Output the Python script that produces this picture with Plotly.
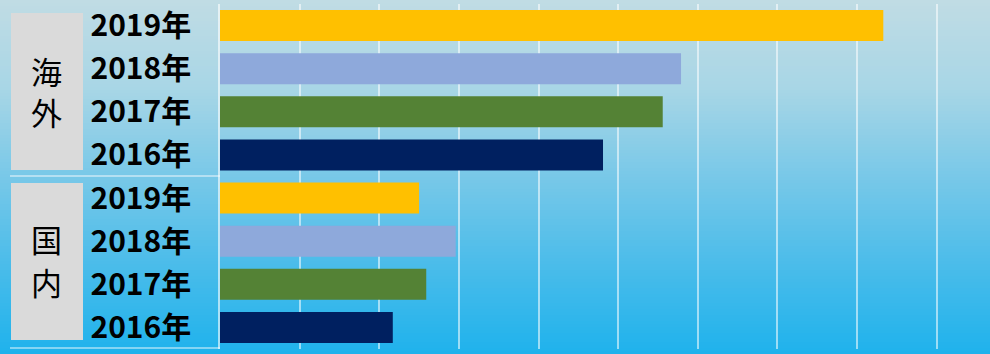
import plotly.graph_objects as go

# ---- data ----
groups = ["海外", "海外", "海外", "海外", "国内", "国内", "国内", "国内"]
years = ["2019年", "2018年", "2017年", "2016年", "2019年", "2018年", "2017年", "2016年"]
values = [83.3, 57.9, 55.6, 48.1, 25.0, 29.6, 25.9, 21.7]
year_colors = {"2019年": "#FFC000", "2018年": "#8EA9DB", "2017年": "#548235", "2016年": "#002060"}
group_chars = [["海", "外"], ["国", "内"]]

cat_ids = [f"{g}-{y}" for g, y in zip(groups, years)]
colors = [year_colors[y] for y in years]

W, H = 990, 354
L, R, T, B = 220, 0, 4, 5
pw, ph = W - L - R, H - T - B


def px_x(px):
    return (px - L) / pw


def px_y(py):
    return (H - B - py) / ph


fig = go.Figure()
fig.add_trace(go.Bar(
    x=values, y=cat_ids, orientation="h",
    marker=dict(color=colors, line=dict(width=0)),
    hoverinfo="x+y",
))

shapes = []
# background gradient
stops = [(0.0, (0xC0, 0xDC, 0xE4)), (0.25, (0xA8, 0xD6, 0xE6)), (0.5, (0x78, 0xC8, 0xE8)),
         (0.75, (0x4A, 0xBC, 0xEA)), (1.0, (0x1F, 0xB2, 0xEC))]


def interp(t):
    for (a, ca), (b, cb) in zip(stops[:-1], stops[1:]):
        if a <= t <= b:
            f = (t - a) / (b - a)
            return tuple(round(ca[i] + (cb[i] - ca[i]) * f) for i in range(3))
    return stops[-1][1]


n = 118
for i in range(n):
    y0 = i * H / n
    y1 = (i + 1) * H / n + 0.6
    c = interp((i + 0.5) / n)
    shapes.append(dict(type="rect", xref="paper", yref="paper",
                       x0=px_x(0), x1=px_x(W), y0=px_y(y1), y1=px_y(y0),
                       fillcolor="rgb(%d,%d,%d)" % c, line=dict(width=0), layer="below"))

# gray group boxes
for top, bot in [(13, 170), (183, 340)]:
    shapes.append(dict(type="rect", xref="paper", yref="paper",
                       x0=px_x(11), x1=px_x(83), y0=px_y(bot), y1=px_y(top),
                       fillcolor="#DADADA", line=dict(width=0), layer="below"))
# divider lines
for py in [176, 348]:
    shapes.append(dict(type="line", xref="paper", yref="paper",
                       x0=px_x(10), x1=px_x(220), y0=px_y(py), y1=px_y(py),
                       line=dict(color="rgba(255,255,255,0.6)", width=1.5), layer="above"))

fig.update_layout(
    width=W, height=H,
    margin=dict(l=L, r=R, t=T, b=B),
    paper_bgcolor="#8ACDE8",
    plot_bgcolor="rgba(0,0,0,0)",
    showlegend=False,
    bargap=0.28,
    shapes=shapes,
    xaxis=dict(range=[0, 96.7], dtick=10, showgrid=True,
               gridcolor="rgba(255,255,255,0.55)", gridwidth=1.5,
               showticklabels=False, zeroline=False, showline=False),
    yaxis=dict(categoryorder="array", categoryarray=cat_ids[::-1],
               tickmode="array", tickvals=cat_ids, ticktext=years,
               ticks="outside", ticklen=21, tickcolor="rgba(0,0,0,0)",
               tickfont=dict(family="Noto Sans CJK JP", size=30, color="#000000", weight="bold"),
               showgrid=False, zeroline=False,
               showline=True, linecolor="rgba(255,255,255,0.6)", linewidth=1.5),
)

char_centers = [[70, 112], [238, 281]]
for chars, centers in zip(group_chars, char_centers):
    for ch, cy in zip(chars, centers):
        fig.add_annotation(text=ch, xref="paper", yref="paper",
                           x=px_x(46), y=px_y(cy), showarrow=False,
                           font=dict(family="Noto Sans CJK JP", size=31, color="#000000"),
                           xanchor="center", yanchor="middle")

fig.write_html("out.html", config={"displayModeBar": False},
               post_script="document.body.style.margin='0';document.body.style.padding='0';")
